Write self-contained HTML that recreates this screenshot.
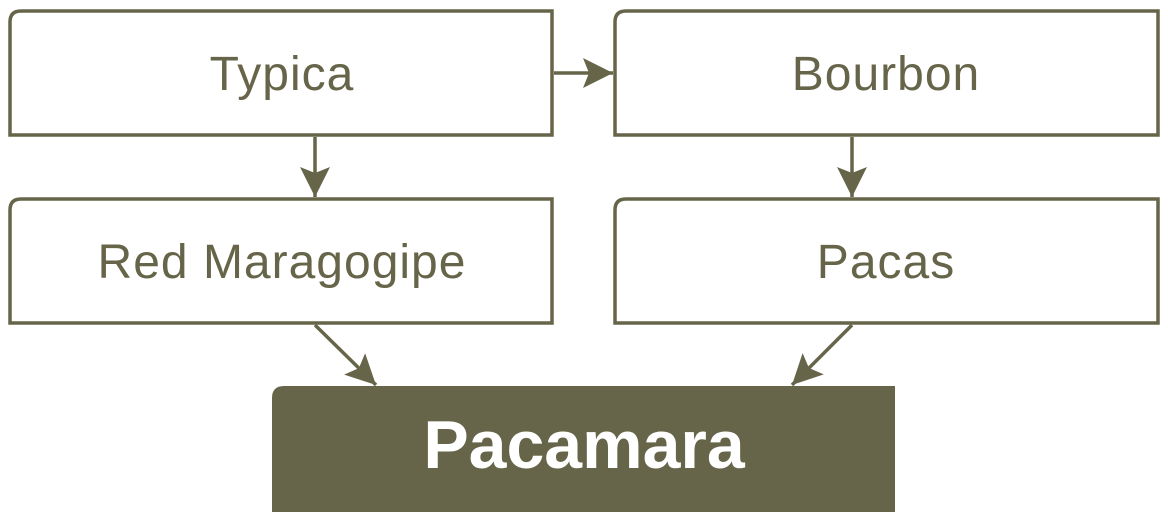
<!DOCTYPE html>
<html><head><style>
body{margin:0;background:#fff;width:1168px;height:522px;overflow:hidden}
svg text{font-family:"Liberation Sans",sans-serif;fill:#666549;text-anchor:middle}
</style></head><body>
<svg width="1168" height="522" viewBox="0 0 1168 522">
<defs>
<marker id="b" markerWidth="32" markerHeight="32" refX="30" refY="16" orient="auto" markerUnits="userSpaceOnUse" viewBox="0 0 32 32"><path d="M0,1 L30,16 L0,31 L6,16z" fill="#666549"/></marker></defs>
<g fill="#fff" stroke="#666549" stroke-width="3.5">
<path d="M10,135 V22 Q10,11 21,11 H552 V135z"/>
<path d="M615,135 V22 Q615,11 626,11 H1158 V135z"/>
<path d="M10,323 V210 Q10,199 21,199 H552 V323z"/>
<path d="M615,323 V210 Q615,199 626,199 H1158 V323z"/>
</g>
<path d="M272,512 V398 Q272,386 284,386 H895 V512z" fill="#666549"/>
<g stroke="#666549" stroke-width="3.5" fill="none">
<line x1="554" y1="73" x2="613" y2="73" marker-end="url(#b)"/>
<line x1="315" y1="137" x2="315" y2="197" marker-end="url(#b)"/>
<line x1="852" y1="137" x2="852" y2="197" marker-end="url(#b)"/>
<line x1="315" y1="325" x2="376" y2="385" marker-end="url(#b)"/>
<line x1="852" y1="325" x2="792" y2="385" marker-end="url(#b)"/>
</g>
<g font-size="48" letter-spacing="1">
<text x="282" y="90">Typica</text>
<text x="886" y="90">Bourbon</text>
<text x="282" y="278">Red Maragogipe</text>
<text x="886" y="278">Pacas</text>
</g>
<text x="584" y="468" font-size="68" font-weight="bold" style="fill:#fff">Pacamara</text>
</svg>
</body></html>
